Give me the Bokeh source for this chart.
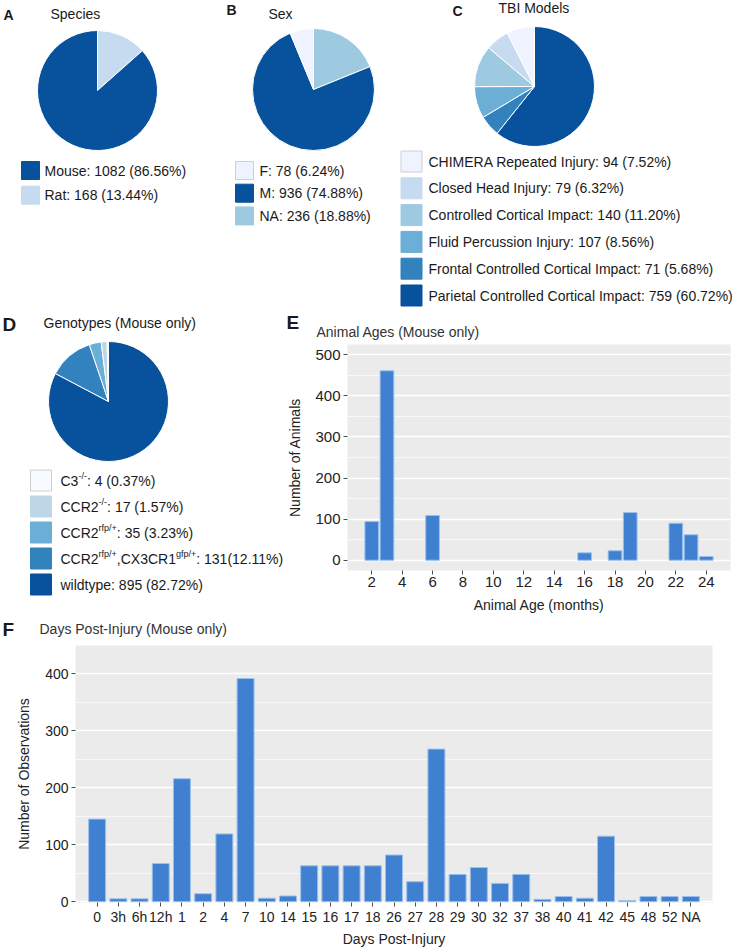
import math
from bokeh.plotting import figure
from bokeh.models import Range1d, FactorRange, FixedTicker, ColumnDataSource
from bokeh.layouts import column, row
from bokeh.embed import file_html
from bokeh.resources import INLINE
from bokeh.core.properties import value

# ---------------- data ----------------
species_labels = ["Mouse", "Rat"]
species_counts = [1082, 168]
species_colors = ["#08519C", "#C6DBEF"]

sex_labels = ["F", "M", "NA"]
sex_counts = [78, 936, 236]
sex_colors = ["#EFF3FF", "#08519C", "#9ECAE1"]

tbi_labels = ["CHIMERA Repeated Injury", "Closed Head Injury", "Controlled Cortical Impact",
              "Fluid Percussion Injury", "Frontal Controlled Cortical Impact",
              "Parietal Controlled Cortical Impact"]
tbi_counts = [94, 79, 140, 107, 71, 759]
tbi_colors = ["#EFF3FF", "#C6DBEF", "#9ECAE1", "#6BAED6", "#3182BD", "#08519C"]

# genotype labels as (text, is_superscript) segments
geno_labels = [
    [("C3", False), ("-/-", True)],
    [("CCR2", False), ("-/-", True)],
    [("CCR2", False), ("rfp/+", True)],
    [("CCR2", False), ("rfp/+", True), (",CX3CR1", False), ("gfp/+", True)],
    [("wildtype", False)],
]
geno_sep = [" ", " ", " ", "", " "]
geno_counts = [4, 17, 35, 131, 895]
geno_colors = ["#F7FBFF", "#BDD7E7", "#6BAED6", "#3182BD", "#08519C"]

age_months = [2, 3, 6, 16, 18, 19, 22, 23, 24]
age_counts = [94, 461, 109, 18, 23, 116, 90, 62, 9]
age_ticks = [2, 4, 6, 8, 10, 12, 14, 16, 18, 20, 22, 24]
age_yticks = [0, 100, 200, 300, 400, 500]

days = ["0", "3h", "6h", "12h", "1", "2", "4", "7", "10", "14", "15", "16", "17", "18",
        "26", "27", "28", "29", "30", "32", "37", "38", "40", "41", "42", "45", "48", "52", "NA"]
day_counts = [145, 5, 5, 67, 216, 14, 119, 392, 6, 10, 63, 63, 63, 63,
              82, 35, 268, 48, 60, 32, 48, 4, 9, 6, 115, 2, 9, 9, 9]
day_yticks = [0, 100, 200, 300, 400]

# ---------------- style ----------------
FONT = "Liberation Sans"
TXT = "#1A1A1A"
BAR = "#3F80D1"
BAR_EDGE = "#9CC0EC"
PANEL = "#EBEBEB"
PAGE_W = 738
SPLIT_X = 284

W = {' ': 278, '-': 333, '/': 278, ':': 278, '(': 333, ')': 333, '.': 278, ',': 278,
     '%': 889, '+': 584, 'C': 722, 'R': 722, 'X': 667, 'r': 333, 'f': 278, 'p': 556,
     'g': 556, 'w': 722, 'i': 222, 'l': 222, 'd': 556, 't': 278, 'y': 500, 'e': 556}


def tw(s, size):
    return sum(W.get(c, 556) for c in s) * size / 1000.0


def canvas(x0, x1, y0, y1):
    p = figure(width=x1 - x0, height=y1 - y0, x_range=Range1d(x0, x1), y_range=Range1d(-y1, -y0),
               output_backend="svg", toolbar_location=None, min_border=0, title=None,
               x_axis_location=None, y_axis_location=None, outline_line_color=None,
               background_fill_color="white", border_fill_color="white")
    p.min_border_left = p.min_border_right = p.min_border_top = p.min_border_bottom = 0
    p.xgrid.visible = False
    p.ygrid.visible = False
    return p


def txt(p, x, yc, s, size, bold=False, color=TXT, align="left"):
    p.text(x=[x], y=[-yc], text=[s], text_font=value(FONT),
           text_font_size=f"{size}px", text_font_style="bold" if bold else "normal",
           text_baseline="middle", text_align=align, text_color=color)


def pie(p, cx, cy, r, counts, colors):
    total = float(sum(counts))
    order = list(range(len(counts)))[::-1]  # clockwise from top: last legend item first
    starts, ends, cols = [], [], []
    acc = 0.0
    for i in order:
        a0 = acc / total * 2 * math.pi
        acc += counts[i]
        a1 = acc / total * 2 * math.pi
        starts.append(math.pi / 2 - a1)
        ends.append(math.pi / 2 - a0)
        cols.append(colors[i])
    src = ColumnDataSource(dict(s=starts, e=ends, c=cols))
    p.wedge(x=cx, y=-cy, radius=r, radius_units="screen", start_angle="s", end_angle="e",
            fill_color="c", line_color="white", line_width=1, source=src)


def key_line(c):
    return "#CFCFCF" if c in ("#EFF3FF", "#F7FBFF") else c


def legend(p, kx, ky0, dy, ks, tx, labels, counts, colors, size=14):
    total = float(sum(counts))
    ys = [-(ky0 + i * dy) for i in range(len(labels))]
    p.rect(x=[kx] * len(labels), y=ys, width=ks, height=ks, width_units="screen",
           height_units="screen", fill_color=colors, line_color=[key_line(c) for c in colors],
           line_width=1)
    for i, (lab, n) in enumerate(zip(labels, counts)):
        txt(p, tx, ky0 + i * dy, f"{lab}: {n} ({n / total * 100:.2f}%)", size)


# ---------------- top canvas: A, B, C ----------------
top = canvas(0, PAGE_W, 0, 310)
txt(top, 3, 14, "A", 14, bold=True)
txt(top, 50, 13, "Species", 14)
pie(top, 97, 90, 60, species_counts, species_colors)
legend(top, 30, 170, 24.7, 18, 44, species_labels, species_counts, species_colors)

txt(top, 226, 9.5, "B", 14, bold=True)
txt(top, 268, 13.5, "Sex", 14)
pie(top, 313, 89, 61, sex_counts, sex_colors)
legend(top, 244, 170, 22.7, 18, 259, sex_labels, sex_counts, sex_colors)

txt(top, 452, 10.5, "C", 14, bold=True)
txt(top, 498, 7, "TBI Models", 14)
pie(top, 534, 86, 60, tbi_counts, tbi_colors)
legend(top, 411, 161, 26.8, 21, 428, tbi_labels, tbi_counts, tbi_colors)

# ---------------- D canvas ----------------
pD = canvas(0, SPLIT_X, 310, 620)
txt(pD, 2, 324, "D", 19, bold=True)
txt(pD, 43, 322, "Genotypes (Mouse only)", 14)
pie(pD, 108, 401, 60, geno_counts, geno_colors)
g_total = float(sum(geno_counts))
kx, ky0, dy, ks, tx = 40.5, 480, 26, 21, 60
ys = [-(ky0 + i * dy) for i in range(len(geno_counts))]
pD.rect(x=[kx] * len(ys), y=ys, width=ks, height=ks, width_units="screen", height_units="screen",
        fill_color=geno_colors, line_color=[key_line(c) for c in geno_colors], line_width=1)
nx, ny, nt, sx, sy, st = [], [], [], [], [], []
for i, (segs, sep, n) in enumerate(zip(geno_labels, geno_sep, geno_counts)):
    yc = ky0 + i * dy
    x = tx
    for s, sup in segs + [(f": {n}{sep}({n / g_total * 100:.2f}%)", False)]:
        if sup:
            sx.append(x); sy.append(-(yc - 5)); st.append(s)
            x += tw(s, 9)
        else:
            nx.append(x); ny.append(-yc); nt.append(s)
            x += tw(s, 14)
pD.text(x=nx, y=ny, text=nt, text_font=value(FONT), text_font_size="14px",
        text_baseline="middle", text_color=TXT)
pD.text(x=sx, y=sy, text=st, text_font=value(FONT), text_font_size="9px",
        text_baseline="middle", text_color=TXT)

# ---------------- E header ----------------
hE = canvas(SPLIT_X, PAGE_W, 310, 342)
txt(hE, 286, 322, "E", 19, bold=True)
txt(hE, 316, 331, "Animal Ages (Mouse only)", 14, color="#333333")


def style_axes(p, tick_size, ylab_standoff, xlab_standoff):
    for ax in (p.xaxis[0], p.yaxis[0]):
        ax.axis_line_color = None
        ax.major_tick_line_color = "#4D4D4D"
        ax.major_tick_in = 0
        ax.major_tick_out = 4
        ax.minor_tick_line_color = None
        ax.major_label_text_font = FONT
        ax.major_label_text_font_size = f"{tick_size}px"
        ax.major_label_text_color = "#222222"
        ax.axis_label_text_font = FONT
        ax.axis_label_text_font_size = "14px"
        ax.axis_label_text_font_style = "normal"
        ax.axis_label_text_color = "#222222"
    p.yaxis[0].major_label_standoff = 3
    p.xaxis[0].major_label_standoff = 2
    p.yaxis[0].axis_label_standoff = ylab_standoff
    p.xaxis[0].axis_label_standoff = xlab_standoff
    p.xgrid.visible = False
    p.ygrid.grid_line_color = "white"
    p.ygrid.grid_line_width = 1.3
    p.ygrid.minor_grid_line_color = "white"
    p.ygrid.minor_grid_line_width = 0.6


# ---------------- E: ages ----------------
pE = figure(width=PAGE_W - SPLIT_X, height=278, x_range=Range1d(0.405, 25.595),
            y_range=Range1d(-25, 525),
            output_backend="svg", toolbar_location=None, title=None,
            min_border_left=347 - SPLIT_X, min_border_right=PAGE_W - 730,
            min_border_top=2, min_border_bottom=50,
            background_fill_color=PANEL, border_fill_color="white", outline_line_color=None,
            x_axis_label="Animal Age (months)", y_axis_label="Number of Animals")
pE.vbar(x=age_months, top=age_counts, bottom=0, width=0.9, fill_color=BAR,
        line_color=BAR_EDGE, line_width=1)
pE.xaxis[0].ticker = FixedTicker(ticks=age_ticks)
pE.yaxis[0].ticker = FixedTicker(ticks=age_yticks,
                                 minor_ticks=[t + 50 for t in age_yticks[:-1]])
style_axes(pE, 15, 9, 7)

# ---------------- F header ----------------
hF = canvas(0, PAGE_W, 620, 645)
txt(hF, 2, 629, "F", 19, bold=True)
txt(hF, 39, 628.5, "Days Post-Injury (Mouse only)", 14, color="#333333")

# ---------------- F: days post-injury ----------------
pF = figure(width=PAGE_W, height=304,
            x_range=FactorRange(factors=days, range_padding=0.52, range_padding_units="absolute"),
            y_range=Range1d(-1.5, 450),
            output_backend="svg", toolbar_location=None, title=None,
            min_border_left=75, min_border_right=PAGE_W - 712, min_border_top=0, min_border_bottom=45,
            background_fill_color=PANEL, border_fill_color="white", outline_line_color=None,
            x_axis_label="Days Post-Injury", y_axis_label="Number of Observations")
pF.vbar(x=days, top=day_counts, bottom=0, width=0.8, fill_color=BAR,
        line_color=BAR_EDGE, line_width=1)
pF.yaxis[0].ticker = FixedTicker(ticks=day_yticks,
                                 minor_ticks=[t + 50 for t in day_yticks])
style_axes(pF, 14, 10, 3)

# nest each plot in its own box so the layout does not align their frames
layout = column(row(top),
                row(column(row(pD)), column(row(hE), row(pE))),
                row(hF),
                row(pF))

open("out.html", "w").write(file_html(layout, INLINE, "Figure"))
